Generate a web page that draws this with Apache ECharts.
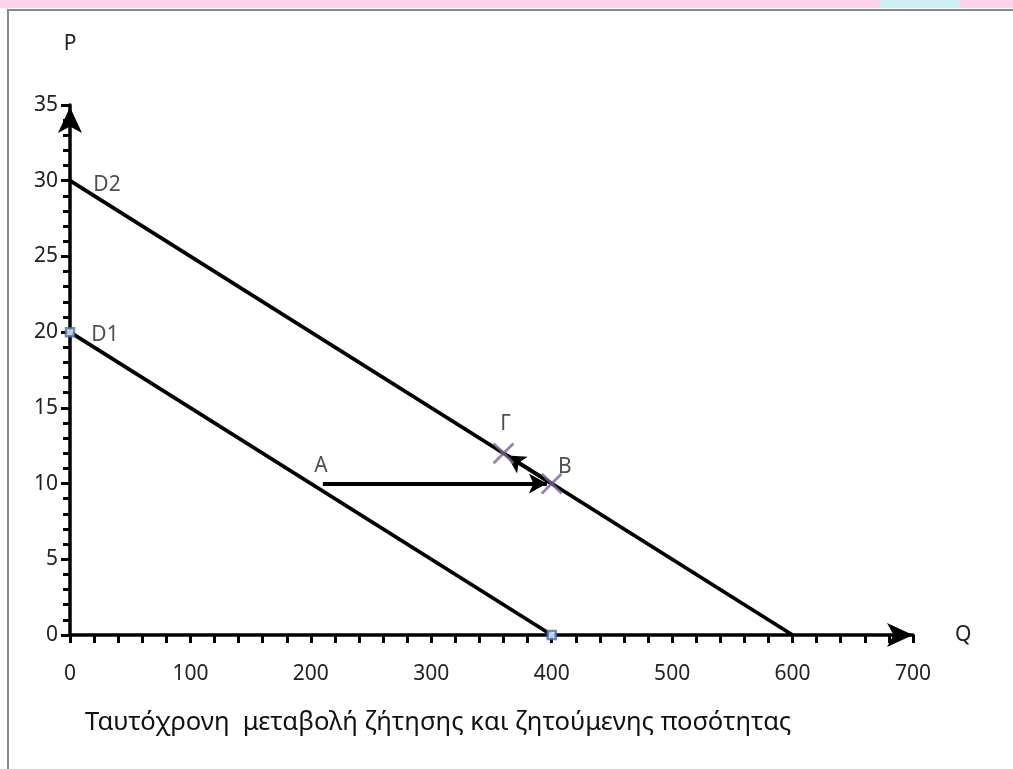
<!DOCTYPE html>
<html>
<head>
<meta charset="utf-8">
<script src="https://cdn.jsdelivr.net/npm/echarts@6/dist/echarts.min.js"></script>
<style>
  html, body { margin: 0; padding: 0; background: #fff; }
  #chart { width: 1013px; height: 769px; }
</style>
</head>
<body>
<div id="chart"></div>
<script>
// demand curves (Q, P)
const d1 = [[0, 20], [400, 0]];
const d2 = [[0, 30], [600, 0]];
// small square markers on D1
const d1Ends = [[0, 20], [400, 0]];
// crosses at Γ and B
const crossPts = [[360, 12], [400, 10]];
// movement arrows
const moveAB = [[210, 10], [396, 10]];
const moveBG = [[400, 10], [363, 11.85]];
// point labels
const labelNames = ['D2', 'D1', 'A', 'Γ', 'B'];
const labelPts = [[0, 30], [0, 20], [210, 10], [360, 12], [400, 10]];
const titleText = 'Ταυτόχρονη  μεταβολή ζήτησης και ζητούμενης ποσότητας';

const font = 'Noto Sans';
const labelOffsets = {D2: [37, 4], D1: [35, 3], A: [-2, -18], 'Γ': [2, -29], B: [13, -17]};
const crossPath = 'path://M4.5,0L5.5,0L5.5,4.5L10,4.5L10,5.5L5.5,5.5L5.5,10L4.5,10L4.5,5.5L0,5.5L0,4.5L4.5,4.5Z';

const chart = echarts.init(document.getElementById('chart'));

const tickStyle = {color: '#000', width: 3};
const baseX = {type: 'value', min: 0, max: 700, interval: 100, splitLine: {show: false}};
const baseY = {type: 'value', min: 0, max: 35, interval: 5, splitLine: {show: false}};

const option = {
  backgroundColor: '#fff',
  animation: false,
  grid: {left: 70, right: 100, top: 105, bottom: 134},
  graphic: [
    {type: 'rect', shape: {x: 0, y: 0, width: 1013, height: 8}, style: {fill: '#fcd3ea'}},
    {type: 'rect', shape: {x: 880, y: 0, width: 80, height: 8}, style: {fill: '#cdf0f7'}},
    {type: 'rect', shape: {x: 8, y: 10, width: 1020, height: 780}, style: {fill: 'none', stroke: '#8a8a8a', lineWidth: 2}},
    {type: 'text', left: 85, top: 710, style: {text: titleText, font: '25.6px "' + font + '"', fill: '#111'}}
  ],
  xAxis: [
    Object.assign({}, baseX, {
      name: 'Q', nameLocation: 'end', nameGap: 42,
      nameTextStyle: {fontFamily: font, fontSize: 21, color: '#222'},
      axisLine: {show: true, onZero: false, lineStyle: {color: '#000', width: 3.5}, symbol: ['none', 'arrow'], symbolSize: [18, 26], symbolOffset: [0, 0]},
      axisTick: {show: true, length: 8, lineStyle: tickStyle},
      minorTick: {show: true, splitNumber: 5, length: 8, lineStyle: tickStyle},
      axisLabel: {margin: 29, fontFamily: font, fontSize: 21, color: '#222'}
    }),
    Object.assign({}, baseX, {
      axisLine: {show: false},
      axisTick: {show: true, inside: true, length: 8, lineStyle: tickStyle},
      minorTick: {show: true, splitNumber: 5, length: 8, lineStyle: tickStyle},
      axisLabel: {show: false}
    })
  ],
  yAxis: [
    Object.assign({}, baseY, {
      name: 'P', nameLocation: 'end', nameGap: 50,
      nameTextStyle: {fontFamily: font, fontSize: 21, color: '#222', align: 'center'},
      axisLine: {show: true, onZero: false, lineStyle: {color: '#000', width: 3.5}, symbol: ['none', 'arrow'], symbolSize: [18, 26], symbolOffset: [0, -2]},
      axisTick: {show: true, length: 9, lineStyle: tickStyle},
      minorTick: {show: true, splitNumber: 5, length: 7, lineStyle: tickStyle},
      axisLabel: {margin: 12, fontFamily: font, fontSize: 21, color: '#222'}
    }),
    Object.assign({}, baseY, {
      axisLine: {show: false},
      axisTick: {show: true, inside: true, length: 6, lineStyle: tickStyle},
      minorTick: {show: true, splitNumber: 5, length: 6, lineStyle: tickStyle},
      axisLabel: {show: false}
    })
  ],
  series: [
    {type: 'line', data: d1, symbol: 'none', lineStyle: {color: '#000', width: 3.8}, z: 3},
    {type: 'line', data: d2, symbol: 'none', lineStyle: {color: '#000', width: 3.8}, z: 3,
      markLine: {
        silent: true, symbol: ['none', 'arrow'], symbolSize: [15, 18],
        lineStyle: {color: '#000', width: 3.8, type: 'solid'}, label: {show: false},
        data: [
          [{coord: moveAB[0]}, {coord: moveAB[1]}],
          [{coord: moveBG[0]}, {coord: moveBG[1]}]
        ]
      }
    },
    {type: 'scatter', data: d1Ends, symbol: 'rect', symbolSize: 8, z: 5,
      itemStyle: {color: '#fff', borderColor: '#3f6fb0', borderWidth: 2.5}},
    {type: 'scatter', data: crossPts, symbol: crossPath, symbolSize: 28, symbolRotate: 45, z: 6,
      itemStyle: {color: '#8064a2'}},
    {type: 'scatter', symbolSize: 0, z: 7,
      data: labelNames.map((n, i) => ({name: n, value: labelPts[i],
        label: {show: true, formatter: n, offset: labelOffsets[n], position: 'inside',
          fontFamily: font, fontSize: 21, color: '#222'}}))}
  ]
};
chart.setOption(option);
</script>
</body>
</html>
